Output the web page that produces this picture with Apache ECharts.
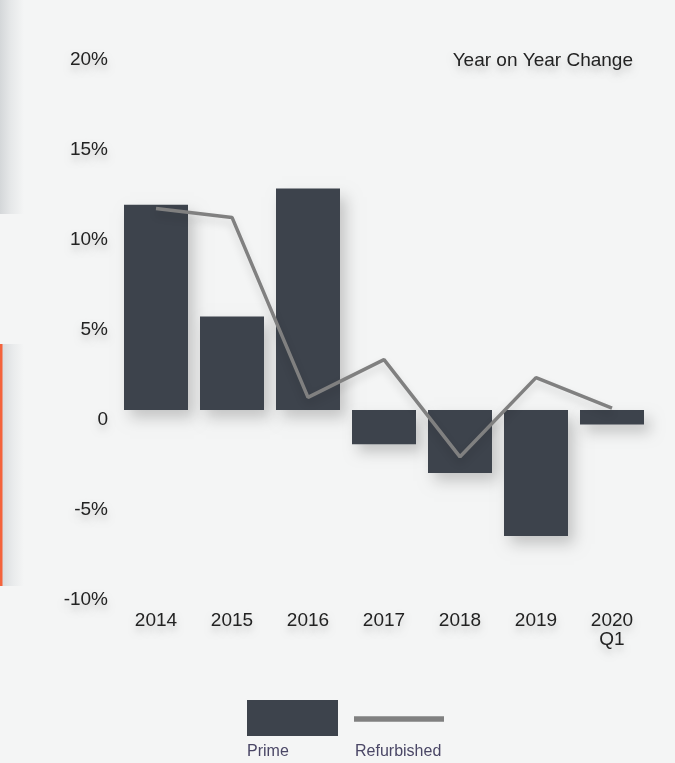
<!DOCTYPE html>
<html>
<head>
<meta charset="utf-8">
<script src="https://cdn.jsdelivr.net/npm/echarts@6/dist/echarts.min.js"></script>
<style>
  html, body { margin: 0; padding: 0; background: #f4f5f5; }
  #chart { width: 675px; height: 763px; }
</style>
</head>
<body>
<div id="chart"></div>
<script>
// Year-on-year change, Prime vs Refurbished
const categories = ['2014', '2015', '2016', '2017', '2018', '2019', '2020\nQ1'];
const primeValues = [11.4, 5.2, 12.3, -1.9, -3.5, -7.0, -0.8];
const refurbishedValues = [11.2, 10.7, 0.7, 2.8, -2.6, 1.8, 0.1];
const yTicks = { min: -10, max: 20, step: 5 };

const FONT = '"Liberation Sans", Arial, Helvetica, sans-serif';
const BG = '#f4f5f5';
const BAR = '#3d434c';
const LINE = '#808080';
const textShadow = {
  textShadowColor: 'rgba(0,0,0,0.18)',
  textShadowBlur: 7,
  textShadowOffsetY: 5
};

const chart = echarts.init(document.getElementById('chart'));
chart.setOption({
  backgroundColor: BG,
  animation: false,
  title: {
    text: 'Year on Year Change',
    right: 37,
    top: 46,
    textStyle: Object.assign({ fontFamily: FONT, fontSize: 19, fontWeight: 'normal', color: '#222' }, textShadow)
  },
  grid: { left: 118, right: 25, top: 50, bottom: 173, containLabel: false },
  xAxis: {
    type: 'category',
    data: categories,
    axisLine: { show: false },
    axisTick: { show: false },
    axisLabel: Object.assign({
      margin: 21, fontFamily: FONT, fontSize: 19, lineHeight: 19, color: '#222', align: 'center'
    }, textShadow)
  },
  yAxis: {
    type: 'value',
    min: yTicks.min,
    max: yTicks.max,
    interval: yTicks.step,
    axisLine: { show: false },
    axisTick: { show: false },
    splitLine: { show: false },
    axisLabel: Object.assign({
      margin: 10, fontFamily: FONT, fontSize: 19, color: '#222', verticalAlign: 'top',
      formatter: v => (v === 0 ? '0' : v + '%')
    }, textShadow)
  },
  series: [
    {
      name: 'Prime',
      type: 'bar',
      data: primeValues,
      barWidth: 64,
      itemStyle: {
        color: BAR,
        shadowColor: 'rgba(0,0,0,0.2)',
        shadowBlur: 14,
        shadowOffsetX: 6,
        shadowOffsetY: 8
      }
    },
    {
      name: 'Refurbished',
      type: 'line',
      data: refurbishedValues,
      symbol: 'none',
      z: 3,
      lineStyle: {
        color: LINE,
        width: 3.5,
        shadowColor: 'rgba(0,0,0,0.15)',
        shadowBlur: 8,
        shadowOffsetY: 5
      }
    }
  ],
  graphic: [
    // shaded edge of the neighbouring panel, top left
    {
      type: 'rect', left: 0, top: 0, z: -1,
      shape: { width: 24, height: 214 },
      style: {
        fill: new echarts.graphic.LinearGradient(0, 0, 1, 0, [
          { offset: 0, color: '#d4d7d9' },
          { offset: 0.45, color: '#e6e8e9' },
          { offset: 1, color: BG }
        ])
      }
    },
    // orange accent rule and its shadow, left side
    {
      type: 'rect', left: 2, top: 344, z: -1,
      shape: { width: 22, height: 242 },
      style: {
        fill: new echarts.graphic.LinearGradient(0, 0, 1, 0, [
          { offset: 0, color: '#d9dcde' },
          { offset: 0.5, color: '#e9ebec' },
          { offset: 1, color: BG }
        ])
      }
    },
    {
      type: 'rect', left: 0, top: 344,
      shape: { width: 2.5, height: 242 },
      style: { fill: '#f4633c' }
    },
    // legend
    {
      type: 'rect', left: 247, top: 700,
      shape: { width: 91, height: 36 },
      style: { fill: BAR }
    },
    {
      type: 'line',
      shape: { x1: 354, y1: 719, x2: 444, y2: 719 },
      style: { stroke: LINE, lineWidth: 5.5 }
    },
    {
      type: 'text', left: 247, top: 744,
      style: { text: 'Prime', fontFamily: FONT, fontSize: 16, fill: '#4a4766' }
    },
    {
      type: 'text', left: 355, top: 744,
      style: { text: 'Refurbished', fontFamily: FONT, fontSize: 16, fill: '#4a4766' }
    }
  ]
});
</script>
</body>
</html>
